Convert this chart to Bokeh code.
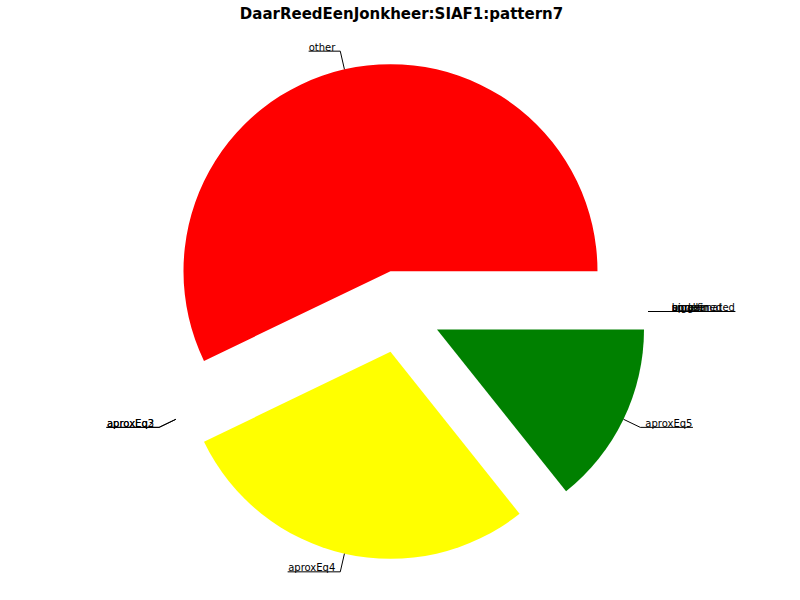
import math
from bokeh.plotting import figure
from bokeh.core.properties import value
from bokeh.embed import file_html
from bokeh.resources import INLINE

# ---- data ----
title_text = "DaarReedEenJonkheer:SIAF1:pattern7"
labels = ["other", "aproxEq2", "aproxEq3", "aproxEq4", "aproxEq5",
          "bigger", "smaller", "undefined", "aproximated"]
counts = [4, 0, 0, 2, 1, 0, 0, 0, 0]
colors = ["#ff0000", "#0000ff", "#00bfbf", "#ffff00", "#008000",
          "#bf00bf", "#000000", "#00ff00", "#ff8000"]

# ---- layout ----
W, H = 784, 584
CX, CY = 399.2, 289.0      # pie centre (data units == pixels, y up from image bottom)
R = 207.0                  # radius
EXPLODE = 0.2
FONT = "DejaVu Sans"
FS = 10

# approximate DejaVu Sans advance widths (units per em 2048)
ADV = dict(a=1255, b=1300, c=1126, d=1300, e=1260, f=721, g=1300, h=1298, i=569,
           j=569, k=1186, l=569, m=1995, n=1298, o=1253, p=1300, q=1300, r=842,
           s=1067, t=803, u=1298, v=1212, w=1675, x=1212, y=1212, z=1075, E=1294, T=1251)


def text_width(s, size=FS):
    tot = 0
    for ch in s:
        if ch.isdigit():
            tot += 1303
        elif ch == " ":
            tot += 651
        else:
            tot += ADV.get(ch, 1250)
    return tot / 2048.0 * size


p = figure(width=W, height=H, x_range=(0, 784), y_range=(16, 600),
           output_backend="svg", toolbar_location=None, min_border=0,
           x_axis_type=None, y_axis_type=None)
p.grid.visible = False
p.outline_line_color = None
p.background_fill_color = "white"
p.border_fill_color = "white"

total = float(sum(counts))
cum = 0.0
wx, wy, ws, we, wc = [], [], [], [], []
lead_x0, lead_y0, lead_x1, lead_y1 = [], [], [], []
ul_x0, ul_x1, ul_y = [], [], []
tl_x, tl_y, tl_t = [], [], []
tr_x, tr_y, tr_t = [], [], []

for lab, v, col in zip(labels, counts, colors):
    a1 = 2 * math.pi * cum / total
    a2 = 2 * math.pi * (cum + v) / total
    cum += v
    mid = (a1 + a2) / 2
    ex = CX + EXPLODE * R * math.cos(mid)
    ey = CY + EXPLODE * R * math.sin(mid)
    if v > 0:
        wx.append(ex); wy.append(ey); ws.append(a1); we.append(a2); wc.append(col)
    px = ex + R * math.cos(mid)
    py = ey + R * math.sin(mid)
    qx = ex + 1.09 * R * math.cos(mid)
    qy = ey + 1.09 * R * math.sin(mid)
    lead_x0.append(px); lead_y0.append(py); lead_x1.append(qx); lead_y1.append(qy)
    tw = text_width(lab)
    if math.cos(mid) >= -1e-9:
        tl_x.append(qx + 5); tl_y.append(qy); tl_t.append(lab)
        ul_x0.append(qx); ul_x1.append(qx + 5 + tw); ul_y.append(qy)
    else:
        tr_x.append(qx - 5); tr_y.append(qy); tr_t.append(lab)
        ul_x0.append(qx - 5 - tw); ul_x1.append(qx); ul_y.append(qy)

p.wedge(x=wx, y=wy, radius=R, start_angle=ws, end_angle=we,
        fill_color=wc, line_color=None, direction="anticlock")

p.segment(x0=lead_x0, y0=lead_y0, x1=lead_x1, y1=lead_y1, line_color="black", line_width=1)
p.segment(x0=ul_x0, y0=ul_y, x1=ul_x1, y1=ul_y, line_color="black", line_width=1)

p.text(x=tl_x, y=tl_y, text=tl_t, text_font=value(FONT), text_font_size=f"{FS}px",
       text_align="left", text_baseline="alphabetic", y_offset=-4, text_color="black")
p.text(x=tr_x, y=tr_y, text=tr_t, text_font=value(FONT), text_font_size=f"{FS}px",
       text_align="right", text_baseline="alphabetic", y_offset=-4, text_color="black")

p.text(x=[401], y=[587], text=[title_text], text_font=value(FONT), text_font_size="15px",
       text_font_style="bold", text_align="center", text_baseline="middle", text_color="black")

open("out.html", "w").write(file_html(p, INLINE))
